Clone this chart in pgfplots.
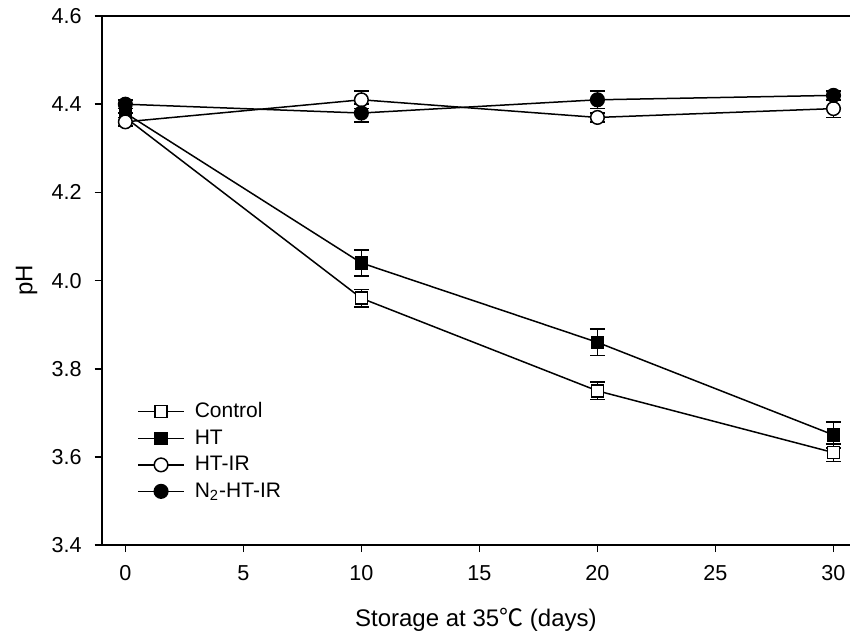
\documentclass[border=0pt]{standalone}
\usepackage{fontspec}
\setmainfont{Liberation Sans}
\newfontfamily\cjk{Noto Sans CJK SC}
\usepackage{pgfplots}
\usepackage{pgfplotstable}
\pgfplotsset{compat=1.18}
\usetikzlibrary{calc}
\pgfplotstableread{
x y e
0 4.37 0.01
10 3.96 0.02
20 3.75 0.02
30 3.61 0.02
}\tabControl
\pgfplotstableread{
x y e
0 4.38 0.01
10 4.04 0.03
20 3.86 0.03
30 3.65 0.03
}\tabHT
\pgfplotstableread{
x y e
0 4.36 0.01
10 4.41 0.02
20 4.37 0.01
30 4.39 0.02
}\tabHTIR
\pgfplotstableread{
x y e
0 4.40 0.01
10 4.38 0.02
20 4.41 0.02
30 4.42 0.01
}\tabNHTIR
\begin{document}
\begin{tikzpicture}
\begin{axis}[
 scale only axis, width=374pt, height=264.5pt,
 xmin=-1, xmax=30.7, ymin=3.4, ymax=4.6,
 axis x line*=bottom, axis y line*=left,
 axis line style={-, line width=1pt},
 xtick={0,5,10,15,20,25,30},
 ytick={3.4,3.6,3.8,4.0,4.2,4.4,4.6},
 tick align=outside, major tick length=3.5pt,
 tick style={line width=0.8pt, black},
 yticklabel style={/pgf/number format/fixed, /pgf/number format/fixed zerofill, /pgf/number format/precision=1},
 /pgf/number format/assume math mode=true,
 xticklabel style={font=\fontsize{10.8}{12}\selectfont, yshift=-3pt},
 yticklabel style={font=\fontsize{10.8}{12}\selectfont, xshift=-3pt},
 xlabel={Storage at 35{\cjk ℃} (days)},
 ylabel={pH},
 xlabel style={font=\fontsize{12}{14}\selectfont, at={(axis description cs:0.5,0)}, anchor=center, yshift=-37.5pt},
 ylabel style={font=\fontsize{12}{14}\selectfont, at={(axis description cs:-0.1003,0.5)}, anchor=center},
 clip=false,
 every axis plot/.append style={black, line width=0.75pt},
 legend style={at={(0.047,0.278)}, anchor=north west, draw=none, fill=none,
   font=\fontsize{10.5}{12}\selectfont, row sep=0.5pt, column sep=3pt, inner sep=0pt},
 legend cell align=left,
 legend image code/.code={\draw[mark repeat=2,mark phase=2,#1] plot coordinates {(0pt,0pt)(11.5pt,0pt)(23pt,0pt)};},
]
\addplot[mark=square*, mark size=3pt, mark options={fill=white, solid, line width=0.75pt},
  error bars/.cd, y dir=both, y explicit,
  error bar style={line width=0.8pt, black},
  error mark options={rotate=90, mark size=3.75pt, line width=0.8pt, black}]
  table[x=x, y=y, y error=e] {\tabControl};
\addlegendentry{Control}
\addplot[mark=square*, mark size=3pt, mark options={fill=black, solid},
  error bars/.cd, y dir=both, y explicit,
  error bar style={line width=0.8pt, black},
  error mark options={rotate=90, mark size=3.75pt, line width=0.8pt, black}]
  table[x=x, y=y, y error=e] {\tabHT};
\addlegendentry{HT}
\addplot[mark=*, mark size=3.4pt, mark options={fill=white, solid, line width=0.75pt},
  error bars/.cd, y dir=both, y explicit,
  error bar style={line width=0.8pt, black},
  error mark options={rotate=90, mark size=3.75pt, line width=0.8pt, black}]
  table[x=x, y=y, y error=e] {\tabHTIR};
\addlegendentry{HT-IR}
\addplot[mark=*, mark size=3.4pt, mark options={fill=black, solid},
  error bars/.cd, y dir=both, y explicit,
  error bar style={line width=0.8pt, black},
  error mark options={rotate=90, mark size=3.75pt, line width=0.8pt, black}]
  table[x=x, y=y, y error=e] {\tabNHTIR};
\addlegendentry{N\textsubscript{2}-HT-IR}
\draw[line width=1pt] (rel axis cs:0,1) -- (rel axis cs:1,1);
\coordinate (tl) at (rel axis cs:0,1);
\coordinate (br) at (rel axis cs:1,0);
\end{axis}
\pgfresetboundingbox
\path ($(tl)+(-50.85pt,8pt)$) rectangle ($(br)+(0,-47pt)$);
\end{tikzpicture}
\end{document}
